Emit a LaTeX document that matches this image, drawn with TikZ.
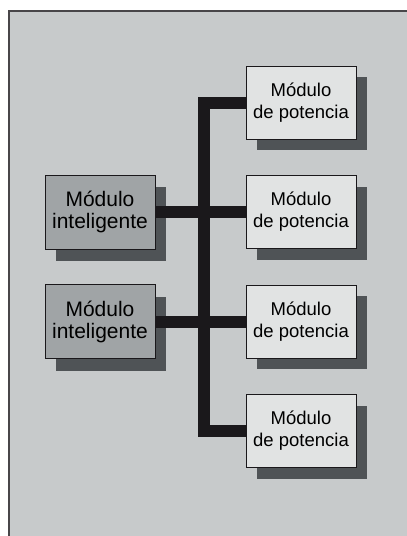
\documentclass[tikz,border=0pt]{standalone}
\usepackage{fontspec}
\setmainfont{Liberation Sans}
\definecolor{bg}{HTML}{C7CACB}
\definecolor{pw}{HTML}{E1E3E3}
\definecolor{intl}{HTML}{A0A4A6}
\definecolor{shd}{HTML}{4F5356}
\definecolor{bus}{HTML}{1A181B}
\tikzset{
  x=1pt,y=-1pt,
  shadowbox/.style={fill=shd, draw=none},
  pwbox/.style={draw=bus, line width=1pt, fill=pw, minimum width=110pt, minimum height=73pt, inner sep=0pt, align=center, font=\fontsize{18.5}{22}\selectfont},
  inbox/.style={draw=bus, line width=1pt, fill=intl, minimum width=110pt, minimum height=74pt, inner sep=0pt, align=center, font=\fontsize{21}{22}\selectfont},
  busline/.style={draw=bus, line width=12pt},
}
\begin{document}
\begin{tikzpicture}
\useasboundingbox (0,0) rectangle (407,536);
\fill[white] (0,0) rectangle (407,536);
\fill[bg] (9,11) rectangle (407,536);
\draw[draw=bus!80, line width=1.5pt] (9,536) -- (9,11) -- (407,11);
% shadows
\foreach \y in {102.5,212,321.5,431} {
  \fill[shd] (257,\y-25.5) rectangle (367,\y+47.5);
}
\foreach \y in {212,321.5} {
  \fill[shd] (56,\y-25) rectangle (166,\y+49);
}
% bus
\coordinate (top) at (204,102.5);
\coordinate (bot) at (204,431);
\coordinate (j1) at (204,212);
\coordinate (j2) at (204,321.5);
\draw[busline] (246,102.5) -- (top) -- (bot) -- (246,431);
\draw[busline] (150,212) -- (246,212);
\draw[busline] (150,321.5) -- (246,321.5);
\fill[bus] (j1) circle (8.3pt);
\fill[bus] (j2) circle (8.3pt);
% boxes
\node[pwbox] (p1) at (301,102.5) {Módulo\\de potencia};
\node[pwbox] (p2) at (301,212) {Módulo\\de potencia};
\node[pwbox] (p3) at (301,321.5) {Módulo\\de potencia};
\node[pwbox] (p4) at (301,431) {Módulo\\de potencia};
\node[inbox] (i1) at (100,212) {Módulo\\inteligente};
\node[inbox] (i2) at (100,321.5) {Módulo\\inteligente};
\end{tikzpicture}
\end{document}
